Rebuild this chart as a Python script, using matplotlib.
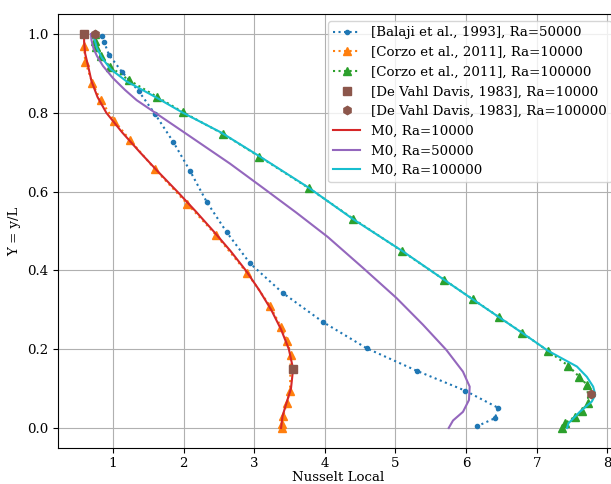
import numpy as np
import matplotlib
matplotlib.use("Agg")
import matplotlib.pyplot as plt
from matplotlib.ticker import MultipleLocator

plt.rcParams['font.family'] = 'serif'
plt.rcParams['font.size'] = 9.6

# [Balaji et al., 1993], Ra=50000
balaji_x = [0.847, 0.875, 0.942, 1.126, 1.363, 1.598, 1.853, 2.089, 2.326, 2.609,
            2.939, 3.402, 3.973, 4.596, 5.304, 5.984, 6.456, 6.409, 6.150]
balaji_y = [0.995, 0.979, 0.947, 0.904, 0.855, 0.796, 0.726, 0.653, 0.574, 0.497,
            0.418, 0.343, 0.269, 0.202, 0.145, 0.095, 0.051, 0.025, 0.004]

# [Corzo et al., 2011], Ra=10000
corzo4_x = [0.588, 0.606, 0.705, 0.824, 1.017, 1.239, 1.593, 2.051, 2.457, 2.901,
            3.222, 3.378, 3.467, 3.516, 3.506, 3.459, 3.411, 3.388, 3.388]
corzo4_y = [0.970, 0.930, 0.876, 0.832, 0.780, 0.731, 0.657, 0.569, 0.490, 0.393,
            0.310, 0.257, 0.222, 0.185, 0.095, 0.063, 0.030, 0.011, 0.000]

# [Corzo et al., 2011], Ra=100000
corzo5_x = [0.744, 0.744, 0.754, 0.824, 0.956, 1.225, 1.618, 1.994, 2.561, 3.071,
            3.771, 4.402, 5.092, 5.691, 6.093, 6.462, 6.792, 7.156, 7.448, 7.603,
            7.717, 7.731, 7.637, 7.542, 7.401, 7.354]
corzo5_y = [1.000, 0.983, 0.968, 0.944, 0.917, 0.883, 0.841, 0.801, 0.746, 0.689,
            0.609, 0.531, 0.449, 0.376, 0.327, 0.282, 0.242, 0.196, 0.158, 0.130,
            0.109, 0.064, 0.044, 0.029, 0.012, 0.000]

# [De Vahl Davis, 1983]
dvd4_x = [0.586, 3.55]
dvd4_y = [1.0, 0.149]
dvd5_x = [0.74, 7.77]
dvd5_y = [1.0, 0.086]

# M0 results
m0_4_y = [1.0, 0.98, 0.95, 0.92, 0.88, 0.84, 0.80, 0.75, 0.70, 0.65, 0.60, 0.55,
          0.50, 0.45, 0.40, 0.35, 0.30, 0.25, 0.20, 0.15, 0.10, 0.06, 0.03, 0.0]
m0_4_x = [0.59, 0.59, 0.605, 0.645, 0.695, 0.78, 0.905, 1.13, 1.38, 1.64, 1.91, 2.17,
          2.42, 2.66, 2.88, 3.07, 3.24, 3.38, 3.49, 3.55, 3.52, 3.45, 3.40, 3.38]

m0_5_y = [1.0, 0.985, 0.964, 0.944, 0.919, 0.888, 0.858, 0.832, 0.756, 0.671, 0.609,
          0.546, 0.485, 0.406, 0.330, 0.262, 0.198, 0.143, 0.105, 0.071, 0.041,
          0.019, 0.0]
m0_5_x = [0.687, 0.694, 0.722, 0.772, 0.857, 0.999, 1.169, 1.334, 1.96, 2.656, 3.127,
          3.600, 4.040, 4.542, 5.014, 5.390, 5.721, 5.956, 6.051, 6.041, 5.956,
          5.815, 5.754]

m0_10_y = [1.0, 0.985, 0.965, 0.94, 0.91, 0.88, 0.84, 0.80, 0.75, 0.69, 0.61, 0.53,
           0.45, 0.376, 0.327, 0.282, 0.242, 0.196, 0.156, 0.130, 0.105, 0.084, 0.067,
           0.041, 0.012, 0.0]
m0_10_x = [0.73, 0.74, 0.77, 0.84, 0.97, 1.19, 1.60, 1.99, 2.53, 3.07, 3.77, 4.40,
           5.09, 5.69, 6.09, 6.46, 6.79, 7.16, 7.57, 7.71, 7.80, 7.83, 7.78,
           7.61, 7.45, 7.43]

fig = plt.figure(figsize=(6.11, 4.84), dpi=100)
ax = fig.add_axes([0.0949, 0.075, 0.9175, 0.8955])

ax.plot(balaji_x, balaji_y, ':', marker='.', color='tab:blue',
        label='[Balaji et al., 1993], Ra=50000')
ax.plot(corzo4_x, corzo4_y, ':', marker='^', color='tab:orange',
        label='[Corzo et al., 2011], Ra=10000')
ax.plot(corzo5_x, corzo5_y, ':', marker='^', color='tab:green',
        label='[Corzo et al., 2011], Ra=100000')
ax.plot(dvd4_x, dvd4_y, 's', color='tab:brown', zorder=5,
        label='[De Vahl Davis, 1983], Ra=10000')
ax.plot(dvd5_x, dvd5_y, 'h', color='tab:brown', zorder=5,
        label='[De Vahl Davis, 1983], Ra=100000')
ax.plot(m0_4_x, m0_4_y, '-', color='tab:red', label='M0, Ra=10000')
ax.plot(m0_5_x, m0_5_y, '-', color='tab:purple', label='M0, Ra=50000')
ax.plot(m0_10_x, m0_10_y, '-', color='tab:cyan', label='M0, Ra=100000')

ax.set_xlim(0.22, 8.16)
ax.set_ylim(-0.05, 1.05)
ax.xaxis.set_major_locator(MultipleLocator(1))
ax.tick_params(axis='x', pad=3)
ax.grid(True)
ax.set_xlabel('Nusselt Local', labelpad=1)
ax.set_ylabel('Y = y/L')
ax.legend(loc='upper right')

plt.savefig('out.png', dpi=100)
